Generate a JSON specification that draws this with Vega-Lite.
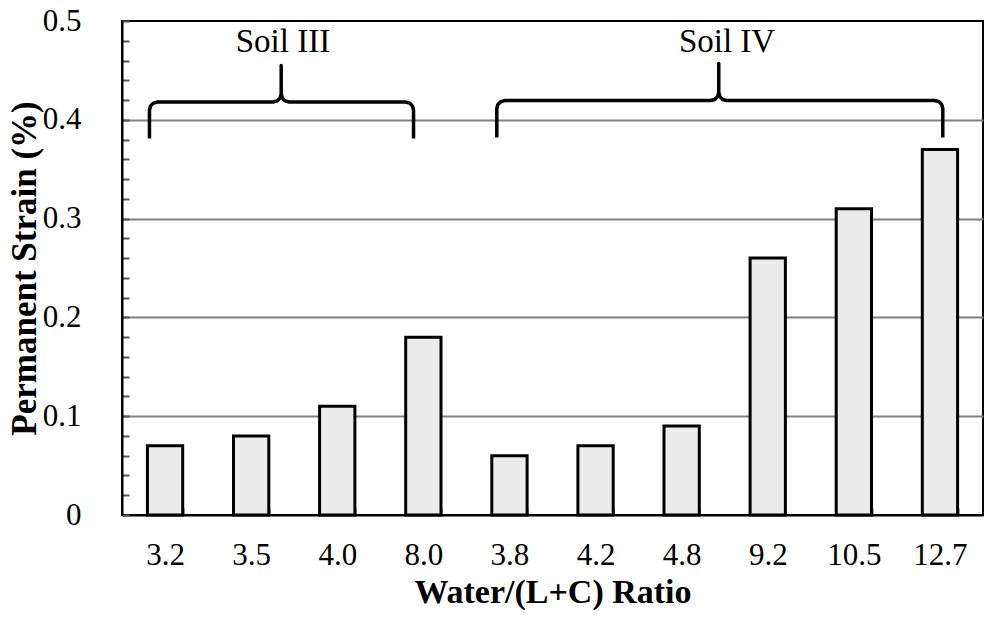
{
  "$schema": "https://vega.github.io/schema/vega-lite/v6.json",
  "width": 861,
  "height": 494,
  "autosize": "none",
  "padding": {"left": 122, "top": 21, "right": 1, "bottom": 102},
  "background": "white",
  "config": {
    "font": "Liberation Serif, Times New Roman, DejaVu Serif, serif",
    "text": {"font": "Liberation Serif, Times New Roman, DejaVu Serif, serif"},
    "view": {"stroke": "black", "strokeWidth": 2}
  },
  "datasets": {
    "bars": [
      {"ratio": "3.2", "soil": "Soil III", "strain": 0.07},
      {"ratio": "3.5", "soil": "Soil III", "strain": 0.08},
      {"ratio": "4.0", "soil": "Soil III", "strain": 0.11},
      {"ratio": "8.0", "soil": "Soil III", "strain": 0.18},
      {"ratio": "3.8", "soil": "Soil IV", "strain": 0.06},
      {"ratio": "4.2", "soil": "Soil IV", "strain": 0.07},
      {"ratio": "4.8", "soil": "Soil IV", "strain": 0.09},
      {"ratio": "9.2", "soil": "Soil IV", "strain": 0.26},
      {"ratio": "10.5", "soil": "Soil IV", "strain": 0.31},
      {"ratio": "12.7", "soil": "Soil IV", "strain": 0.37}
    ],
    "braces": [
      {"g": "III", "i": 1, "u": 0.319, "v": 0.381},
      {"g": "III", "i": 2, "u": 0.319, "v": 0.4099},
      {"g": "III", "i": 3, "u": 0.331, "v": 0.414},
      {"g": "III", "i": 4, "u": 0.366, "v": 0.4169},
      {"g": "III", "i": 5, "u": 0.412, "v": 0.418},
      {"g": "III", "i": 6, "u": 1.756, "v": 0.418},
      {"g": "III", "i": 7, "u": 1.803, "v": 0.4191},
      {"g": "III", "i": 8, "u": 1.837, "v": 0.4221},
      {"g": "III", "i": 9, "u": 1.849, "v": 0.4261},
      {"g": "III", "i": 10, "u": 1.849, "v": 0.455},
      {"g": "III", "i": 11, "u": 1.849, "v": 0.4261},
      {"g": "III", "i": 12, "u": 1.861, "v": 0.4221},
      {"g": "III", "i": 13, "u": 1.896, "v": 0.4191},
      {"g": "III", "i": 14, "u": 1.942, "v": 0.418},
      {"g": "III", "i": 15, "u": 3.293, "v": 0.418},
      {"g": "III", "i": 16, "u": 3.34, "v": 0.4169},
      {"g": "III", "i": 17, "u": 3.374, "v": 0.414},
      {"g": "III", "i": 18, "u": 3.386, "v": 0.4099},
      {"g": "III", "i": 19, "u": 3.386, "v": 0.381},
      {"g": "IV", "i": 1, "u": 4.353, "v": 0.382},
      {"g": "IV", "i": 2, "u": 4.353, "v": 0.4114},
      {"g": "IV", "i": 3, "u": 4.365, "v": 0.4155},
      {"g": "IV", "i": 4, "u": 4.4, "v": 0.4184},
      {"g": "IV", "i": 5, "u": 4.446, "v": 0.4195},
      {"g": "IV", "i": 6, "u": 6.838, "v": 0.4195},
      {"g": "IV", "i": 7, "u": 6.885, "v": 0.4206},
      {"g": "IV", "i": 8, "u": 6.919, "v": 0.4236},
      {"g": "IV", "i": 9, "u": 6.931, "v": 0.4276},
      {"g": "IV", "i": 10, "u": 6.931, "v": 0.457},
      {"g": "IV", "i": 11, "u": 6.931, "v": 0.4276},
      {"g": "IV", "i": 12, "u": 6.943, "v": 0.4236},
      {"g": "IV", "i": 13, "u": 6.977, "v": 0.4206},
      {"g": "IV", "i": 14, "u": 7.024, "v": 0.4195},
      {"g": "IV", "i": 15, "u": 9.44, "v": 0.4195},
      {"g": "IV", "i": 16, "u": 9.487, "v": 0.4184},
      {"g": "IV", "i": 17, "u": 9.521, "v": 0.4155},
      {"g": "IV", "i": 18, "u": 9.533, "v": 0.4114},
      {"g": "IV", "i": 19, "u": 9.533, "v": 0.382}
    ],
    "labels": [
      {"u": 1.869, "v": 0.4785, "text": "Soil III"},
      {"u": 7.027, "v": 0.4785, "text": "Soil IV"}
    ]
  },
  "layer": [
    {
      "data": {"name": "bars"},
      "mark": {"type": "bar", "fill": "#ebebeb", "stroke": "black", "strokeWidth": 3},
      "encoding": {
        "x": {
          "field": "ratio",
          "type": "nominal",
          "sort": null,
          "scale": {"paddingInner": 0.59, "paddingOuter": 0.295},
          "axis": {
            "title": "Water/(L+C) Ratio",
            "titleFontSize": 34,
            "titleFontWeight": "bold",
            "titleColor": "black",
            "titlePadding": 5,
            "labelFontSize": 31,
            "labelColor": "black",
            "labelAngle": 0,
            "labelPadding": 32,
            "tickBand": "extent",
            "tickSize": -7,
            "tickWidth": 2,
            "tickColor": "#555555",
            "domainColor": "black",
            "domainWidth": 2,
            "grid": false
          }
        },
        "y": {
          "field": "strain",
          "type": "quantitative",
          "scale": {"domain": [0, 0.5], "nice": false},
          "axis": {
            "values": [0, 0.02, 0.04, 0.06, 0.08, 0.1, 0.12, 0.14, 0.16, 0.18, 0.2, 0.22, 0.24, 0.26, 0.28, 0.3, 0.32, 0.34, 0.36, 0.38, 0.4, 0.42, 0.44, 0.46, 0.48, 0.5],
            "tickCount": 40,
            "labelOverlap": false,
            "labelExpr": "abs(datum.value*10-round(datum.value*10))<1e-6 ? (datum.value==0 ? '0' : format(datum.value, '.1f')) : ''",
            "grid": true,
            "gridColor": "#808080",
            "gridWidth": 2,
            "gridOpacity": {"condition": {"test": "abs(datum.value*10-round(datum.value*10))<1e-6 && datum.value>0 && datum.value<0.5", "value": 1}, "value": 0},
            "tickSize": -7,
            "tickWidth": 2,
            "tickColor": "#555555",
            "domainColor": "black",
            "domainWidth": 2,
            "labelFontSize": 31,
            "labelColor": "black",
            "labelPadding": 48,
            "title": "Permanent Strain (%)",
            "titleFontSize": 35,
            "titleFontWeight": "bold",
            "titleColor": "black",
            "titlePadding": 0
          }
        }
      }
    },
    {
      "data": {"name": "braces"},
      "mark": {"type": "line", "color": "black", "strokeWidth": 3.5, "strokeJoin": "round", "strokeCap": "butt"},
      "encoding": {
        "x": {"field": "u", "type": "quantitative", "scale": {"domain": [0, 10], "nice": false, "zero": false}, "axis": null},
        "y": {"field": "v", "type": "quantitative"},
        "detail": {"field": "g"},
        "order": {"field": "i", "type": "quantitative"}
      }
    },
    {
      "data": {"name": "labels"},
      "mark": {"type": "text", "font": "Liberation Serif, Times New Roman, DejaVu Serif, serif", "fontSize": 33, "color": "black", "baseline": "middle", "align": "center"},
      "encoding": {
        "x": {"field": "u", "type": "quantitative", "scale": {"domain": [0, 10], "nice": false, "zero": false}, "axis": null},
        "y": {"field": "v", "type": "quantitative"},
        "text": {"field": "text"}
      }
    }
  ],
  "resolve": {"scale": {"x": "independent"}}
}
